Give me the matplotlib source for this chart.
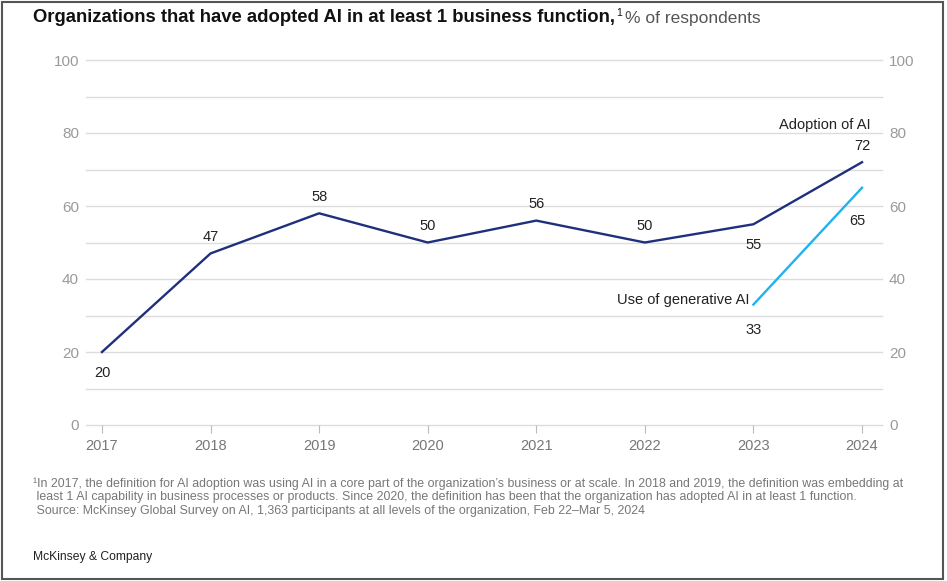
import matplotlib.pyplot as plt
from matplotlib.patches import Rectangle

# ---- data ----
years = [2017, 2018, 2019, 2020, 2021, 2022, 2023, 2024]
adoption = [20, 47, 58, 50, 56, 50, 55, 72]
genai_years = [2023, 2024]
genai = [33, 65]

# label offsets (points) for each value label
adopt_offsets = [(0, -15), (0, 12), (0, 12), (0, 12), (0, 12), (0, 12), (0, -15), (0, 12)]
genai_offsets = [(0, -18), (-3, -24)]

navy = "#1F2F7C"
sky = "#1EB2F0"
grid_c = "#dcdcdc"
tick_c = "#9a9a9a"

plt.rcParams["font.family"] = ["Liberation Sans", "DejaVu Sans"]

fig = plt.figure(figsize=(9.47, 5.81), dpi=100)
ax = fig.add_axes([86 / 947, 1 - 425 / 581, (882 - 86) / 947, (425 - 60) / 581])

ax.set_xlim(2016.853, 2024.184)
ax.set_ylim(0, 100)

for v in range(0, 101, 10):
    ax.axhline(v, color=grid_c, lw=1, zorder=0, clip_on=False)

ax.plot(years, adoption, color=navy, lw=1.7, zorder=3)
ax.plot(genai_years, genai, color=sky, lw=1.7, zorder=3)

for x, y, off in zip(years, adoption, adopt_offsets):
    ax.annotate(str(y), (x, y), xytext=off, textcoords="offset points",
                ha="center", va="center", fontsize=10.5, color="#222222")
for x, y, off in zip(genai_years, genai, genai_offsets):
    ax.annotate(str(y), (x, y), xytext=off, textcoords="offset points",
                ha="center", va="center", fontsize=10.5, color="#222222")

ax.annotate("Adoption of AI", (years[-1], adoption[-1]), xytext=(6, 27),
            textcoords="offset points", ha="right", va="center",
            fontsize=10.5, color="#222222")
ax.annotate("Use of generative AI", (genai_years[0], genai[0]), xytext=(-3, 3),
            textcoords="offset points", ha="right", va="center",
            fontsize=10.5, color="#222222")

for s in ax.spines.values():
    s.set_visible(False)

ax.set_xticks(years)
ax.set_xticklabels([str(y) for y in years])
ax.tick_params(axis="x", length=6, color="#bbbbbb", labelcolor="#777777",
               labelsize=10.5, pad=4)
ax.set_yticks(range(0, 101, 20))
ax.tick_params(axis="y", length=0, labelcolor=tick_c, labelsize=11, pad=5,
               labelleft=True, labelright=True)

# title: bold part, superscript, regular part placed one after another
t1 = fig.text(33 / 947, 1 - 18 / 581, "Organizations that have adopted AI in at least 1 business function,",
              fontsize=13.3, fontweight="bold", va="center", ha="left", color="#111111")
fig.canvas.draw()
r = fig.canvas.get_renderer()
bb = t1.get_window_extent(r)
x_end = bb.x1 / fig.bbox.width
sup = fig.text(x_end + 1 / 947, 1 - 13 / 581, "1", fontsize=7.5, va="center", ha="left",
               color="#111111")
bb2 = sup.get_window_extent(r)
fig.text(bb2.x1 / fig.bbox.width + 3 / 947, 1 - 18 / 581, "% of respondents",
         fontsize=12.5, va="center", ha="left", color="#555555")

foot = ("\u00b9In 2017, the definition for AI adoption was using AI in a core part of the organization\u2019s business or at scale. "
        "In 2018 and 2019, the definition was embedding at\n"
        " least 1 AI capability in business processes or products. Since 2020, the definition has been that the organization has adopted AI in at least 1 function.\n"
        " Source: McKinsey Global Survey on AI, 1,363 participants at all levels of the organization, Feb 22\u2013Mar 5, 2024")
fig.text(33 / 947, 1 - 477 / 581, foot, fontsize=8.9, va="top", ha="left",
         color="#777777", linespacing=1.2)

fig.text(33 / 947, 1 - 557 / 581, "McKinsey & Company", fontsize=8.7, va="center",
         ha="left", color="#222222")

fig.patches.append(Rectangle((0.002, 0.004), 0.994, 0.993, transform=fig.transFigure,
                             fill=False, edgecolor="#555555", lw=1.5))

fig.savefig("out.png", dpi=100)
